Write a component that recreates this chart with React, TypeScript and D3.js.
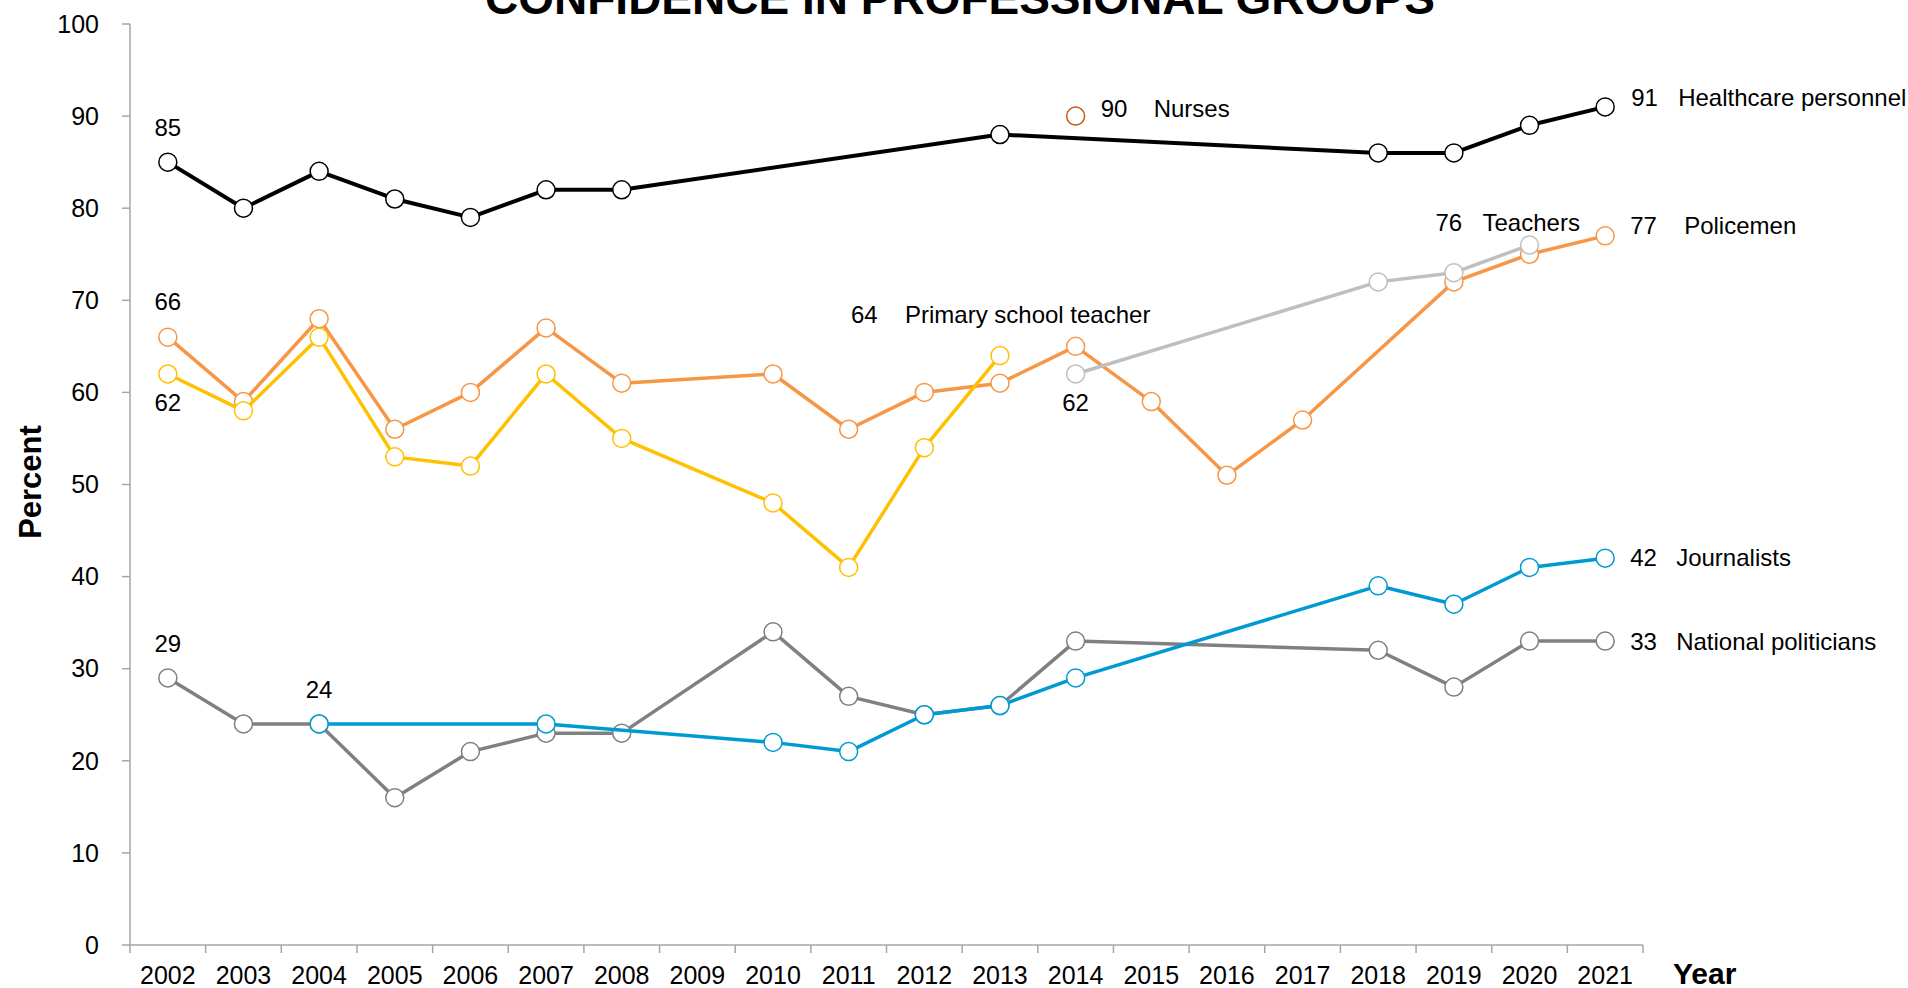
import React, { useEffect, useRef } from "react";
import * as d3 from "d3";

const years = [
  "2002", "2003", "2004", "2005", "2006", "2007", "2008", "2009", "2010", "2011",
  "2012", "2013", "2014", "2015", "2016", "2017", "2018", "2019", "2020", "2021",
];

// null = no survey that year
const healthcare = [85, 80, 84, 81, 79, 82, 82, null, null, null, null, 88, null, null, null, null, 86, 86, 89, 91];
const nurses = [null, null, null, null, null, null, null, null, null, null, null, null, 90, null, null, null, null, null, null, null];
const policemen = [66, 59, 68, 56, 60, 67, 61, null, 62, 56, 60, 61, 65, 59, 51, 57, null, 72, 75, 77];
const primaryTeacher = [62, 58, 66, 53, 52, 62, 55, null, 48, 41, 54, 64, null, null, null, null, null, null, null, null];
const teachers = [null, null, null, null, null, null, null, null, null, null, null, null, 62, null, null, null, 72, 73, 76, null];
const politicians = [29, 24, 24, 16, 21, 23, 23, null, 34, 27, 25, 26, 33, null, null, null, 32, 28, 33, 33];
const journalists = [null, null, 24, null, null, 24, null, null, 22, 21, 25, 26, 29, null, null, null, 39, 37, 41, 42];

const yTicks = [0, 10, 20, 30, 40, 50, 60, 70, 80, 90, 100];

const FONT = "'Liberation Sans', Arial, Helvetica, sans-serif";

const App: React.FC = () => {
  const svgRef = useRef<SVGSVGElement>(null);

  useEffect(() => {
    const W = 1908;
    const H = 988;
    const svg = d3.select(svgRef.current);
    svg.selectAll("*").remove();
    svg.attr("width", W).attr("height", H);

    const x = d3.scaleBand().domain(years).range([130, 1643]).padding(0);
    const y = d3.scaleLinear().domain([0, 100]).range([945, 24]);
    const cx = (yr: string) => (x(yr) || 0) + x.bandwidth() / 2;

    // title (partly cut off at the top, as in the original)
    svg
      .append("text")
      .attr("x", 960)
      .attr("y", 14)
      .attr("text-anchor", "middle")
      .style("font-family", FONT)
      .style("font-weight", "bold")
      .style("font-size", "46px")
      .text("CONFIDENCE IN PROFESSIONAL GROUPS");

    // Y axis
    const axisColor = "#A6A6A6";
    svg
      .append("line")
      .attr("x1", 130)
      .attr("x2", 130)
      .attr("y1", y(100))
      .attr("y2", y(0))
      .attr("stroke", axisColor)
      .attr("stroke-width", 1.5);
    yTicks.forEach((t) => {
      svg
        .append("line")
        .attr("x1", 122)
        .attr("x2", 130)
        .attr("y1", y(t))
        .attr("y2", y(t))
        .attr("stroke", axisColor)
        .attr("stroke-width", 1.5);
      svg
        .append("text")
        .attr("x", 99)
        .attr("y", y(t))
        .attr("dy", "0.35em")
        .attr("text-anchor", "end")
        .style("font-family", FONT)
        .style("font-size", "25px")
        .text(t);
    });

    // X axis
    svg
      .append("line")
      .attr("x1", 130)
      .attr("x2", 1643)
      .attr("y1", y(0))
      .attr("y2", y(0))
      .attr("stroke", axisColor)
      .attr("stroke-width", 1.5);
    years.forEach((yr, i) => {
      const x0 = x(yr) || 0;
      svg
        .append("line")
        .attr("x1", x0)
        .attr("x2", x0)
        .attr("y1", y(0))
        .attr("y2", y(0) + 8)
        .attr("stroke", axisColor)
        .attr("stroke-width", 1.5);
      if (i === years.length - 1) {
        svg
          .append("line")
          .attr("x1", x0 + x.bandwidth())
          .attr("x2", x0 + x.bandwidth())
          .attr("y1", y(0))
          .attr("y2", y(0) + 8)
          .attr("stroke", axisColor)
          .attr("stroke-width", 1.5);
      }
      svg
        .append("text")
        .attr("x", cx(yr))
        .attr("y", 984)
        .attr("text-anchor", "middle")
        .style("font-family", FONT)
        .style("font-size", "25px")
        .text(yr);
    });

    // axis titles
    svg
      .append("text")
      .attr("transform", "translate(41,482) rotate(-90)")
      .attr("text-anchor", "middle")
      .style("font-family", FONT)
      .style("font-weight", "bold")
      .style("font-size", "31px")
      .text("Percent");
    svg
      .append("text")
      .attr("x", 1673)
      .attr("y", 984)
      .style("font-family", FONT)
      .style("font-weight", "bold")
      .style("font-size", "30px")
      .text("Year");

    // series, drawn bottom to top
    const series = [
      { key: "healthcare", values: healthcare, line: "#000000", marker: "#000000", width: 4 },
      { key: "policemen", values: policemen, line: "#F79646", marker: "#F79646", width: 3.5 },
      { key: "primary", values: primaryTeacher, line: "#FFC000", marker: "#FFC000", width: 3.5 },
      { key: "teachers", values: teachers, line: "#BFBFBF", marker: "#BFBFBF", width: 3.5 },
      { key: "politicians", values: politicians, line: "#808080", marker: "#7F7F7F", width: 3.5 },
      { key: "journalists", values: journalists, line: "#009AD2", marker: "#009AD2", width: 3.5 },
      { key: "nurses", values: nurses, line: "#C55A11", marker: "#C55A11", width: 3 },
    ];

    const line = d3
      .line<{ yr: string; v: number }>()
      .x((d) => cx(d.yr))
      .y((d) => y(d.v));

    series.forEach((s) => {
      const pts = years
        .map((yr, i) => ({ yr, v: s.values[i] as number | null }))
        .filter((d) => d.v !== null) as { yr: string; v: number }[];
      const g = svg.append("g");
      if (pts.length > 1) {
        g.append("path")
          .datum(pts)
          .attr("d", line)
          .attr("fill", "none")
          .attr("stroke", s.line)
          .attr("stroke-width", s.width)
          .attr("stroke-linejoin", "round");
      }
      g.selectAll("circle")
        .data(pts)
        .join("circle")
        .attr("cx", (d) => cx(d.yr))
        .attr("cy", (d) => y(d.v))
        .attr("r", 9)
        .attr("fill", "#ffffff")
        .attr("stroke", s.marker)
        .attr("stroke-width", 1.5);
    });

    // data labels
    const label = (xx: number, yy: number, txt: string, anchor = "start") =>
      svg
        .append("text")
        .attr("x", xx)
        .attr("y", yy)
        .attr("text-anchor", anchor)
        .style("font-family", FONT)
        .style("font-size", "24px")
        .text(txt);

    const at = (arr: (number | null)[], yr: string) => arr[years.indexOf(yr)] as number;

    // values above / below the first points
    label(cx("2002"), y(at(healthcare, "2002")) - 26, String(at(healthcare, "2002")), "middle");
    label(cx("2002"), y(at(policemen, "2002")) - 27, String(at(policemen, "2002")), "middle");
    label(cx("2002"), y(at(primaryTeacher, "2002")) + 37, String(at(primaryTeacher, "2002")), "middle");
    label(cx("2002"), y(at(politicians, "2002")) - 26, String(at(politicians, "2002")), "middle");
    label(cx("2004"), y(at(journalists, "2004")) - 26, String(at(journalists, "2004")), "middle");
    label(cx("2014"), y(at(teachers, "2014")) + 37, String(at(teachers, "2014")), "middle");

    // value + name at the last points
    const endLabel = (arr: (number | null)[], yr: string, name: string, dv: number, dn: number, dy: number) => {
      const px = cx(yr);
      const py = y(at(arr, yr)) + dy;
      label(px + dv, py, String(at(arr, yr)));
      label(px + dn, py, name);
    };
    endLabel(healthcare, "2021", "Healthcare personnel", 26, 73, -1);
    endLabel(nurses, "2014", "Nurses", 25, 78, 1);
    endLabel(policemen, "2021", "Policemen", 25, 79, -2);
    endLabel(primaryTeacher, "2013", "Primary school teacher", -149, -95, -33);
    endLabel(teachers, "2020", "Teachers", -94, -47, -14);
    endLabel(journalists, "2021", "Journalists", 25, 71, 8);
    endLabel(politicians, "2021", "National politicians", 25, 71, 9);
  }, []);

  return (
    <svg
      ref={svgRef}
      style={{ position: "absolute", left: 0, top: 0, background: "#ffffff" }}
    ></svg>
  );
};

export default App;
